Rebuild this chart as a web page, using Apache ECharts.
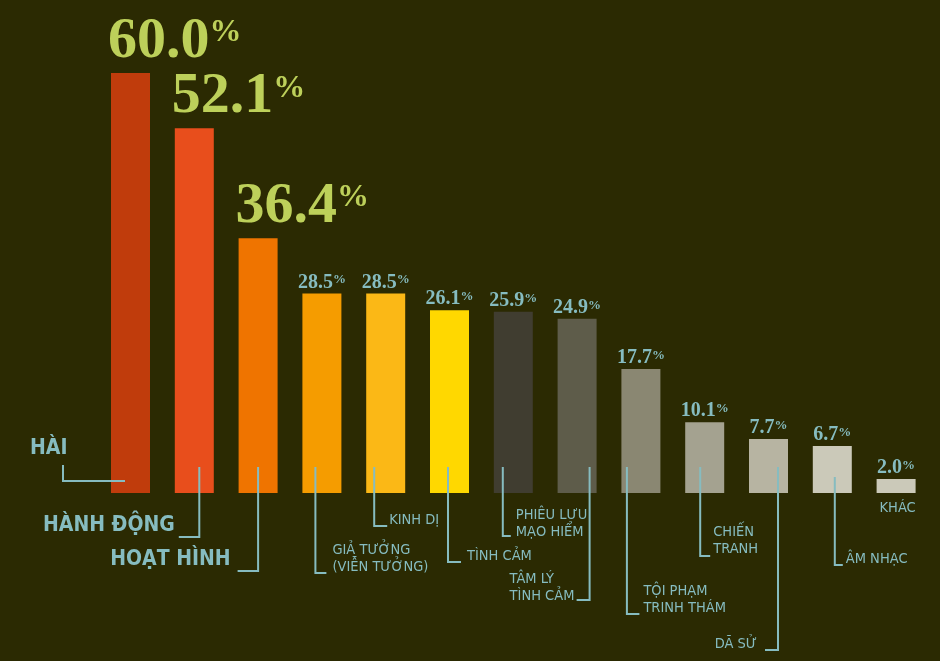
<!DOCTYPE html>
<html>
<head>
<meta charset="utf-8">
<script src="https://cdn.jsdelivr.net/npm/echarts@6/dist/echarts.min.js"></script>
<style>
html,body{margin:0;padding:0;background:#2b2a02;}
#c{width:940px;height:661px;}
</style>
</head>
<body>
<div id="c"></div>
<script>
// ---- data ----
const categories = ['HÀI','HÀNH ĐỘNG','HOẠT HÌNH','GIẢ TƯỞNG\n(VIỄN TƯỞNG)','KINH DỊ','TÌNH CẢM','PHIÊU LƯU\nMẠO HIỂM','TÂM LÝ\nTÌNH CẢM','TỘI PHẠM\nTRINH THÁM','CHIẾN\nTRANH','DÃ SỬ','ÂM NHẠC','KHÁC'];
const values = [60.0, 52.1, 36.4, 28.5, 28.5, 26.1, 25.9, 24.9, 17.7, 10.1, 7.7, 6.7, 2.0];
const bigCount = 3;

// ---- styles ----
const barColors = ['#c03c0c','#e84e1c','#ef7400','#f59c00','#fbb816','#ffd800','#403d30','#5e5c4a','#8a8772','#a4a290','#b7b4a2','#cbc9b9','#cbc9b9'];
const teal = '#86bcc0';
const green = '#bdd05a';
const serif = '"Liberation Serif","DejaVu Serif",serif';
const sans = '"Liberation Sans Narrow","DejaVu Sans Condensed","Roboto",sans-serif';

// leader layout (pixel offsets from bar centre / baseline)
const leaders = [
  {pts:[[-5.5,-12],[-67.5,-12],[-67.5,-28]], lx:-100.5, ly:-32, align:'left', big:true},
  {pts:[[5,-26],[5,44],[-15.5,44]], lx:-19.5, ly:45, align:'right', big:true},
  {pts:[[0,-26],[0,78],[-20.5,78]], lx:-27.5, ly:79, align:'right', big:true},
  {pts:[[-6.5,-26],[-6.5,80],[4.5,80]], lx:10.5, ly:83, align:'left'},
  {pts:[[-11.5,-26],[-11.5,33],[1.5,33]], lx:3.5, ly:36, align:'left'},
  {pts:[[-1.5,-26],[-1.5,69],[11.5,69]], lx:17.5, ly:72, align:'left'},
  {pts:[[-10.5,-26],[-10.5,43],[-2.5,43]], lx:2.5, ly:48, align:'left'},
  {pts:[[12.5,-26],[12.5,107],[-0.5,107]], lx:-67.5, ly:112, align:'left'},
  {pts:[[-14,-26],[-14,121],[-1.5,121]], lx:2.5, ly:124, align:'left'},
  {pts:[[-4.5,-26],[-4.5,63],[5.5,63]], lx:8.5, ly:65, align:'left'},
  {pts:[[9.5,-26],[9.5,157],[-3.5,157]], lx:-11.5, ly:160, align:'right'},
  {pts:[[2.5,-16],[2.5,72],[10.5,72]], lx:13.5, ly:75, align:'left'},
  {pts:null, lx:1.5, ly:24, align:'center'}
];

const chart = echarts.init(document.getElementById('c'));

const barData = values.map((v, i) => {
  const big = i < bigCount;
  return {
    value: v,
    itemStyle: {color: barColors[i]},
    label: big ? {
      show: true,
      position: [-3, -6],
      align: 'left',
      verticalAlign: 'bottom',
      formatter: p => '{a|' + p.value.toFixed(1) + '}{b|%}',
      rich: {
        a: {fontFamily: serif, fontWeight: 'bold', fontSize: 58, color: green, lineHeight: 50},
        b: {fontFamily: serif, fontWeight: 'bold', fontSize: 32, color: green, verticalAlign: 'top', lineHeight: 46}
      }
    } : {
      show: true,
      position: 'top',
      distance: 2,
      formatter: p => '{a|' + p.value.toFixed(1) + '}{b|%}',
      rich: {
        a: {fontFamily: serif, fontWeight: 'bold', fontSize: 20, color: teal, lineHeight: 18},
        b: {fontFamily: serif, fontWeight: 'bold', fontSize: 13, color: teal, verticalAlign: 'top', lineHeight: 17}
      }
    }
  };
});

chart.setOption({
  backgroundColor: '#2b2a02',
  animation: false,
  grid: {left: 98.6, right: 12, top: 73, bottom: 168},
  xAxis: {type: 'category', data: categories, show: false},
  yAxis: {type: 'value', min: 0, max: 60, show: false},
  series: [
    {
      type: 'bar',
      barWidth: 39,
      data: barData,
      z: 2
    },
    {
      type: 'custom',
      z: 5,
      data: categories.map((c, i) => [i, 0]),
      encode: {x: 0, y: 1},
      renderItem: (params, api) => {
        const i = api.value(0);
        const base = api.coord([i, 0]);
        const L = leaders[i];
        const children = [];
        if (L.pts) {
          children.push({
            type: 'polyline',
            shape: {points: L.pts.map(p => [base[0] + p[0], base[1] + p[1]])},
            style: {stroke: teal, lineWidth: 2, fill: null}
          });
        }
        children.push({
          type: 'text',
          style: {
            text: categories[i],
            x: base[0] + L.lx,
            y: base[1] + L.ly,
            align: L.align,
            verticalAlign: 'bottom',
            fill: teal,
            fontFamily: sans,
            fontWeight: L.big ? 'bold' : 'normal',
            fontSize: L.big ? 21 : 14.5,
            lineHeight: L.big ? 24 : 17
          }
        });
        return {type: 'group', children};
      }
    }
  ]
});
</script>
</body>
</html>
